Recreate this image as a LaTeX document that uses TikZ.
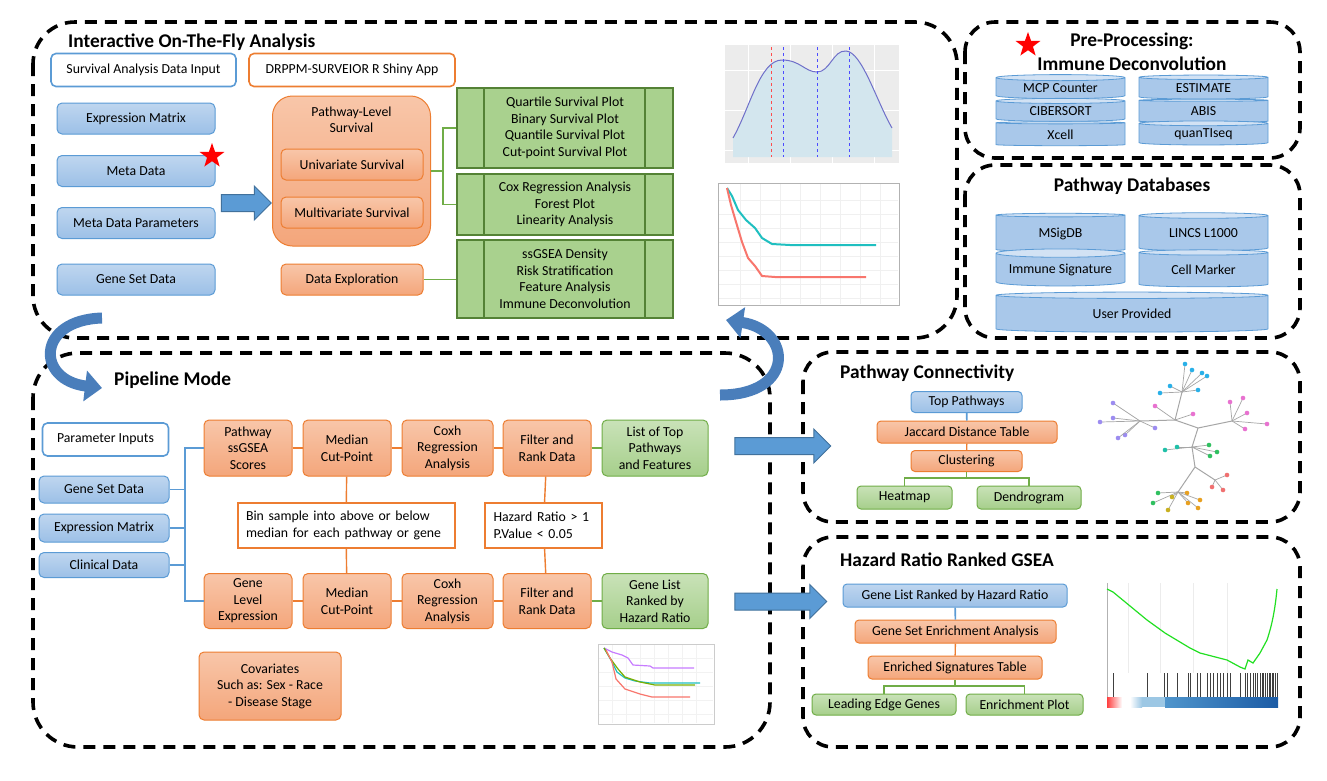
\documentclass[tikz,border=0pt]{standalone}
\usepackage{fontspec}
\setmainfont{Carlito}
\usetikzlibrary{positioning,shapes.geometric,shapes.arrows,arrows.meta}
\definecolor{bluebd}{HTML}{5B9BD5}
\definecolor{bluetop}{HTML}{BFD6EF}
\definecolor{bluebot}{HTML}{9CC0E7}
\definecolor{orangebd}{HTML}{ED7D31}
\definecolor{orangetop}{HTML}{F8C6A9}
\definecolor{orangebot}{HTML}{F4A67B}
\definecolor{greenbd}{HTML}{70AD47}
\definecolor{greentop}{HTML}{C9E2B8}
\definecolor{greenbot}{HTML}{A6CF8B}
\definecolor{greendark}{HTML}{548235}
\definecolor{greenfill}{HTML}{A9D18E}
\definecolor{arrowblue}{HTML}{5B9BD5}
\definecolor{arrowbd}{HTML}{41719C}
\definecolor{curveblue}{HTML}{4A7EBB}
\definecolor{cylend}{HTML}{D2E2F4}
\definecolor{cylbody}{HTML}{A9C8EA}
\definecolor{densfill}{HTML}{D3E6EE}
\definecolor{densline}{HTML}{6F6FC9}
\definecolor{kmcyan}{HTML}{1FBFC0}
\definecolor{kmred}{HTML}{F8766D}
\definecolor{kmpurple}{HTML}{C77CFF}
\definecolor{kmgreen}{HTML}{7CAE00}
\definecolor{lfcyan}{HTML}{29B0E8}
\definecolor{lfpurple}{HTML}{9C8CF0}
\definecolor{lfpink}{HTML}{E872D0}
\definecolor{lfteal}{HTML}{20C0A8}
\definecolor{lfgreen}{HTML}{30C060}
\definecolor{lfred}{HTML}{F07070}
\definecolor{lfyellow}{HTML}{C8B020}
\definecolor{lforange}{HTML}{E8A020}
\definecolor{gsealight}{HTML}{9CC7E4}
\definecolor{gseamid}{HTML}{4F95CC}
\definecolor{gseadark}{HTML}{1B5BA5}
\definecolor{gseagreen}{HTML}{22E022}
\begin{document}
\begin{tikzpicture}[x=1pt,y=-1pt,
  every node/.style={font=\fontsize{13.8}{16.5}\selectfont,inner sep=2pt},
  box/.style={rounded corners=5pt,line width=1pt,align=center},
  bluebox/.style={box,draw=bluebd,top color=bluetop,bottom color=bluebot},
  orangebox/.style={box,draw=orangebd,top color=orangetop,bottom color=orangebot},
  greenbox/.style={box,draw=greenbd,top color=greentop,bottom color=greenbot},
  inbluebox/.style={box,draw=bluebd,line width=1.6pt,fill=white},
  inorangebox/.style={box,draw=orangebd,line width=1.6pt,fill=white},
  notebox/.style={draw=orangebd,line width=2pt,fill=white,align=left},
  plotbox/.style={draw=greendark,line width=2.5pt,fill=greenfill,align=center,
    path picture={\draw[greendark,line width=2.5pt]
      ([xshift=27pt]path picture bounding box.north west) -- ([xshift=27pt]path picture bounding box.south west)
      ([xshift=-28pt]path picture bounding box.north east) -- ([xshift=-28pt]path picture bounding box.south east);}},
  dbcyl/.style={cylinder,shape border rotate=90,aspect=0.08,draw=bluebd,line width=0.8pt,
    cylinder uses custom fill,cylinder end fill=cylend,cylinder body fill=cylbody,inner sep=0.5pt},
  section/.style={draw=black,line width=3.6pt,dash pattern=on 12pt off 8pt},
  title/.style={font=\fontsize{19.4}{23}\selectfont\bfseries},
  blueline/.style={draw=bluebd,line width=1.6pt},
  orangeline/.style={draw=orangebd,line width=1.4pt},
  greenline/.style={draw=greenbd,line width=1.8pt},
  blockarrow/.style={single arrow,draw=arrowbd,fill=arrowblue,line width=1pt,
    inner sep=0pt,inner ysep=8pt,single arrow head extend=8.5pt},
  curvearrow/.style={draw=curveblue,line width=11pt,-{Triangle[length=17pt,width=30pt]}},
  redstar/.style={star,star points=5,star point ratio=2.5,fill=red,inner sep=0pt,minimum size=26pt},
  treeline/.style={draw=gray!70,line width=1pt}]

\useasboundingbox (0,0) rectangle (1327,780);
\fill[white] (0,0) rectangle (1327,780);

\draw[section,rounded corners=42pt] (33,22) rectangle (957,338);
\draw[section,rounded corners=30pt] (965,22) rectangle (1300,158);
\draw[section,rounded corners=30pt] (965,165) rectangle (1300,338);
\draw[section,rounded corners=45pt] (33,353) rectangle (770,747);
\draw[section,rounded corners=30pt] (803,352) rectangle (1300,522);
\draw[section,rounded corners=30pt] (803,537) rectangle (1300,747);

\node[title,anchor=west] (t1) at (66,42) {Interactive On-The-Fly Analysis};
\node[inbluebox,minimum width=185,minimum height=33] (datain) at (143.5,70) {Survival Analysis Data Input};
\node[inorangebox,minimum width=206,minimum height=33] (app) at (352,70) {DRPPM-SURVEIOR R Shiny App};
\node[bluebox,minimum width=158,minimum height=31] (expr) at (136,118.5) {Expression Matrix};
\node[bluebox,minimum width=158,minimum height=31] (meta) at (136,171) {Meta Data};
\node[bluebox,minimum width=158,minimum height=31] (metap) at (136,223) {Meta Data Parameters};
\node[bluebox,minimum width=158,minimum height=31] (geneset) at (136,279.5) {Gene Set Data};
\node[redstar] (star1) at (212,156) {};
\node[blockarrow,minimum height=50] (arrin) at (242,203) {};

\node[orangebox,rounded corners=20pt,minimum width=158,minimum height=150] (plevel) at (351.5,171) {};
\node[align=center] (pltitle) at (351.5,120) {Pathway-Level\\Survival};
\node[orangebox,minimum width=142,minimum height=31] (uni) at (352,164.5) {Univariate Survival};
\node[orangebox,minimum width=142,minimum height=31] (multi) at (352,212.5) {Multivariate Survival};
\node[orangebox,minimum width=142,minimum height=31] (dataexp) at (352,279.5) {Data Exploration};

\node[plotbox,minimum width=216,minimum height=80] (qplots) at (565,128) {Quartile Survival Plot\\Binary Survival Plot\\Quantile Survival Plot\\Cut-point Survival Plot};
\node[plotbox,minimum width=216,minimum height=61] (coxplots) at (565,204.5) {Cox Regression Analysis\\Forest Plot\\Linearity Analysis};
\node[plotbox,minimum width=216,minimum height=78] (explots) at (565,279) {ssGSEA Density\\Risk Stratification\\Feature Analysis\\Immune Deconvolution};

\coordinate (gj) at (443,171);
\draw[greenline] (plevel.east) -- (gj);
\draw[greenline] (qplots.west) -| (gj) |- (coxplots.west);
\draw[greenline] (dataexp.east) -- (dataexp.east -| explots.west);

\fill[gray!15] (725,45) rectangle (899,163);
\foreach \gx in {748,790,832,874} \draw[white,line width=0.8pt] (\gx,45) -- (\gx,163);
\foreach \gy in {70,110,150} \draw[white,line width=0.8pt] (725,\gy) -- (899,\gy);
\fill[densfill] (733,157) -- (733,138) .. controls (750,108) and (760,60) .. (782,60) .. controls (800,60) and (805,72) .. (817,72) .. controls (830,72) and (833,50) .. (846,51) .. controls (862,52) and (876,100) .. (892,128) -- (892,157) -- cycle;
\draw[densline,line width=1pt] (733,138) .. controls (750,108) and (760,60) .. (782,60) .. controls (800,60) and (805,72) .. (817,72) .. controls (830,72) and (833,50) .. (846,51) .. controls (862,52) and (876,100) .. (892,128);
\draw[red!70,dashed,line width=0.7pt] (771,47) -- (771,157);
\foreach \vx in {783,817,849} \draw[blue!70,dashed,line width=0.7pt] (\vx,47) -- (\vx,157);

\draw[gray!60,fill=white,line width=1pt] (718,183) rectangle (899,305);
\foreach \gx in {740,760,780,800,820,840,860,880} \draw[gray!12,line width=0.6pt] (\gx,184) -- (\gx,304);
\foreach \gy in {200,214,228,242,256,270,284,298} \draw[gray!12,line width=0.6pt] (719,\gy) -- (898,\gy);
\draw[kmcyan,line width=2pt] (727,188) -- (732,196) -- (738,210) -- (746,220) -- (755,228) -- (762,238) -- (772,244) -- (790,245) -- (876,245);
\draw[kmred,line width=2pt] (727,188) -- (731,205) -- (736,222) -- (742,242) -- (748,258) -- (755,266) -- (762,276) -- (775,277) -- (866,277);

\node[title] (t2a) at (1132,41) {Pre-Processing:};
\node[title] (t2b) at (1132,64) {Immune Deconvolution};
\node[redstar] (star2) at (1028,45) {};
\node[dbcyl,minimum width=129,minimum height=24] (mcp) at (1060.5,88.5) {MCP Counter};
\node[dbcyl,minimum width=129,minimum height=23] (cib) at (1060.5,111.5) {CIBERSORT};
\node[dbcyl,minimum width=129,minimum height=24] (xcell) at (1060.5,134.5) {Xcell};
\node[dbcyl,minimum width=129,minimum height=24] (est) at (1203.5,88.5) {ESTIMATE};
\node[dbcyl,minimum width=129,minimum height=23] (abis) at (1203.5,111.5) {ABIS};
\node[dbcyl,minimum width=129,minimum height=24] (quan) at (1203.5,134.5) {quanTIseq};

\node[title] (t3) at (1132,186) {Pathway Databases};
\node[dbcyl,minimum width=129,minimum height=38] (msig) at (1060.5,233.5) {MSigDB};
\node[dbcyl,minimum width=129,minimum height=37] (immsig) at (1060.5,270) {Immune Signature};
\node[dbcyl,minimum width=129,minimum height=38] (lincs) at (1203.5,233.5) {LINCS L1000};
\node[dbcyl,minimum width=129,minimum height=37] (cellm) at (1203.5,270) {Cell Marker};
\node[dbcyl,minimum width=272,minimum height=40] (userp) at (1132,314) {User Provided};

\node[title,anchor=west] (t4) at (112,380) {Pipeline Mode};
\node[inbluebox,minimum width=126,minimum height=33] (params) at (105.5,439.5) {Parameter Inputs};
\node[bluebox,minimum width=130,minimum height=27] (pgs) at (104,489.5) {Gene Set Data};
\node[bluebox,minimum width=130,minimum height=28] (pem) at (104,528) {Expression Matrix};
\node[bluebox,minimum width=130,minimum height=25] (pcd) at (104,565) {Clinical Data};

\node[orangebox,minimum width=88,minimum height=56] (pss) at (248,448) {Pathway\\ssGSEA\\Scores};
\node[orangebox,minimum width=88,minimum height=56,right=10pt of pss] (pmed) {Median\\Cut-Point};
\node[orangebox,minimum width=91,minimum height=56,right=10pt of pmed] (pcox) {Coxh\\Regression\\Analysis};
\node[orangebox,minimum width=88,minimum height=56,right=9pt of pcox] (pfil) {Filter and\\Rank Data};
\node[greenbox,minimum width=106,minimum height=56,right=10pt of pfil] (plist) {List of Top\\Pathways\\and Features};

\node[orangebox,minimum width=88,minimum height=55] (gle) at (248,601) {Gene\\Level\\Expression};
\node[orangebox,minimum width=88,minimum height=55,right=10pt of gle] (gmed) {Median\\Cut-Point};
\node[orangebox,minimum width=91,minimum height=55,right=10pt of gmed] (gcox) {Coxh\\Regression\\Analysis};
\node[orangebox,minimum width=88,minimum height=55,right=9pt of gcox] (gfil) {Filter and\\Rank Data};
\node[greenbox,minimum width=106,minimum height=55,right=10pt of gfil] (glist) {Gene List\\Ranked by\\Hazard Ratio};

\node[notebox,minimum width=217,minimum height=45,text width=200] (bin) at (346,525.5) {Bin sample into above or below\\median for each pathway or gene};
\node[notebox,minimum width=117,minimum height=45,text width=100] (hr) at (543.5,525.5) {Hazard Ratio > 1\\P.Value < 0.05};
\node[orangebox,minimum width=142,minimum height=68] (cov) at (270,686) {Covariates\\Such as: Sex - Race\\- Disease Stage};

\path[orangeline] (pss) edge (pmed) (pmed) edge (pcox) (pcox) edge (pfil)
                  (gle) edge (gmed) (gmed) edge (gcox) (gcox) edge (gfil)
                  (pmed) edge (bin) (bin) edge (gmed)
                  (pfil) edge (hr) (hr) edge (gfil);
\path[greenline] (pfil) edge (plist) (gfil) edge (glist);

\coordinate (bj1) at (185,448);
\coordinate (bj2) at (185,601);
\draw[blueline] (pss.west) -- (bj1) -- (bj2) -- (gle.west);
\draw[blueline] (pgs.east) -- (pgs.east -| bj1);
\draw[blueline] (pem.east) -- (pem.east -| bj1);
\draw[blueline] (pcd.east) -- (pcd.east -| bj1);

\draw[gray!40,fill=white,line width=1pt] (598,644) rectangle (714,724);
\foreach \gx in {612,626,640,654,668,682,696} \draw[gray!10,line width=0.5pt] (\gx,645) -- (\gx,723);
\foreach \gy in {658,672,686,700,714} \draw[gray!10,line width=0.5pt] (599,\gy) -- (713,\gy);
\draw[kmpurple,line width=1.2pt] (604,648) -- (612,652) -- (622,655) -- (628,658) -- (633,665) -- (650,666) -- (653,668) -- (694,668);
\draw[kmcyan,line width=1.2pt] (604,648) -- (611,660) -- (617,672) -- (625,678) -- (635,681) -- (650,683) -- (700,683);
\draw[kmgreen,line width=1.2pt] (604,648) -- (610,658) -- (618,669) -- (625,677) -- (640,682) -- (655,685) -- (695,685);
\draw[kmred,line width=1.2pt] (606,650) -- (612,662) -- (616,679) -- (625,689) -- (640,694) -- (652,697) -- (690,697);

\node[blockarrow,minimum height=96] (arrpc) at (778.5,446) {};
\node[blockarrow,minimum height=92] (arrhr) at (776.5,601.5) {};

\node[title,anchor=west] (t5) at (838,373) {Pathway Connectivity};
\node[bluebox,rounded corners=4pt,minimum width=111,minimum height=21] (toppw) at (966.5,402) {Top Pathways};
\node[orangebox,rounded corners=4pt,minimum width=180,minimum height=22] (jac) at (967,432) {Jaccard Distance Table};
\node[orangebox,rounded corners=4pt,minimum width=111,minimum height=21] (clus) at (966.5,461) {Clustering};
\node[greenbox,rounded corners=4pt,minimum width=95,minimum height=23] (heat) at (904.5,497.5) {Heatmap};
\node[greenbox,rounded corners=4pt,minimum width=104,minimum height=23] (dendro) at (1029,497.5) {Dendrogram};
\coordinate (cj) at (966.5,478);
\draw[blueline] (toppw) -- (jac);
\draw[orangeline] (jac) -- (clus);
\draw[greenline] (clus) -- (cj);
\draw[greenline] (heat.north) |- (cj) -| (dendro.north);

\coordinate (h0) at (1175,420);
\coordinate (h1) at (1198,428);
\coordinate (hT) at (1182,392);
\coordinate (hL) at (1140,421);
\coordinate (hR) at (1232,421);
\coordinate (hM) at (1192,447);
\coordinate (h2) at (1195,467);
\coordinate (hRR) at (1215,480);
\coordinate (hD) at (1178,492);
\draw[treeline] (hL) -- (h0) -- (h1) -- (hR) (h0) -- (hT) (h1) -- (hM) -- (h2) -- (hRR) (h2) -- (hD);
\foreach \h/\lx/\ly/\lc in {hT/1160/393/lfcyan,hT/1170/386/lfcyan,hT/1185/364/lfcyan,hT/1192/370/lfcyan,hT/1202/373/lfcyan,hT/1207/376/lfcyan,hT/1198/390/lfcyan,
  hL/1113/403/lfpurple,hL/1100/422/lfpurple,hL/1113/418/lfpurple,hL/1125/435/lfpurple,hL/1155/428/lfpurple,hL/1118/438/lfpurple,
  hR/1243/398/lfpink,hR/1230/402/lfpink,hR/1247/413/lfpink,hR/1267/424/lfpink,hR/1245/429/lfpink,h0/1193/414/lfpink,h0/1155/406/lfpink,
  hM/1165/450/lfteal,hM/1177/447/lfteal,hM/1209/445/lfgreen,hM/1217/452/lfgreen,hM/1210/456/lfgreen,
  hRR/1227/475/lfred,hRR/1223/490/lfred,hRR/1212/487/lfred,
  hD/1153/503/lfgreen,hD/1158/493/lfgreen,hD/1168/510/lfyellow,hD/1172/497/lfyellow,hD/1187/493/lforange,hD/1188/503/lforange,hD/1198/508/lforange,hD/1200/500/lforange}
  {\draw[treeline,line width=0.7pt] (\h) -- (\lx,\ly); \fill[\lc] (\lx,\ly) circle (2.3);}

\node[title,anchor=west] (t6) at (838,560) {Hazard Ratio Ranked GSEA};
\node[bluebox,rounded corners=4pt,minimum width=224,minimum height=23] (glr) at (955,595.5) {Gene List Ranked by Hazard Ratio};
\node[orangebox,rounded corners=4pt,minimum width=201,minimum height=23] (gsea) at (955.5,631.5) {Gene Set Enrichment Analysis};
\node[orangebox,rounded corners=4pt,minimum width=174,minimum height=23] (enr) at (955,667.5) {Enriched Signatures Table};
\node[greenbox,rounded corners=4pt,minimum width=144,minimum height=21] (leg) at (884,704.5) {Leading Edge Genes};
\node[greenbox,rounded corners=4pt,minimum width=117,minimum height=21] (enp) at (1024.5,704.5) {Enrichment Plot};
\coordinate (ej) at (955,686);
\draw[blueline] (glr) -- (gsea);
\draw[orangeline] (gsea) -- (enr);
\draw[greenline] (enr) -- (ej);
\draw[greenline] (leg.north) |- (ej) -| (enp.north);

\foreach \gx in {1128,1160,1193,1227} \draw[gray!15,line width=0.8pt] (\gx,583) -- (\gx,673);
\draw[gray!60,line width=0.6pt] (1107,583) -- (1107,707);
\draw[gseagreen,line width=1.2pt] (1107,589) -- (1113,592) -- (1147,620) -- (1165,633) -- (1190,648) -- (1200,653) -- (1227,660) -- (1240,667) -- (1245,669) -- (1248,660) -- (1253,663) -- (1260,653) -- (1267,640) .. controls (1272,625) and (1275,610) .. (1277,589);
\foreach \bx in {1113,1147,1164,1167,1177,1188,1190,1197,1200,1207,1210,1213,1217,1220,1223,1227,1230,1240,1245,1247,1250,1253,1255,1257,1260,1262,1263,1265,1267,1269,1270,1272,1273,1275,1277}
  \draw[black!75,line width=0.8pt] (\bx,673) -- (\bx,697);
\shade[left color=red!75,right color=white] (1107,697) rectangle (1122,707);
\fill[white] (1122,697) rectangle (1130,707);
\shade[left color=white,right color=gsealight] (1130,697) rectangle (1142,707);
\fill[gsealight] (1142,697) rectangle (1165,707);
\shade[left color=gseamid,right color=gseadark] (1165,697) rectangle (1278,707);

\coordinate (ca1s) at (102,318);
\coordinate (ca1e) at (102,388);
\draw[curvearrow] (ca1s) .. controls (36,320) and (36,380) .. (ca1e);
\coordinate (ca2s) at (720,395);
\coordinate (ca2e) at (726,320);
\draw[curvearrow] (ca2s) .. controls (796,395) and (792,330) .. (ca2e);
\end{tikzpicture}
\end{document}
